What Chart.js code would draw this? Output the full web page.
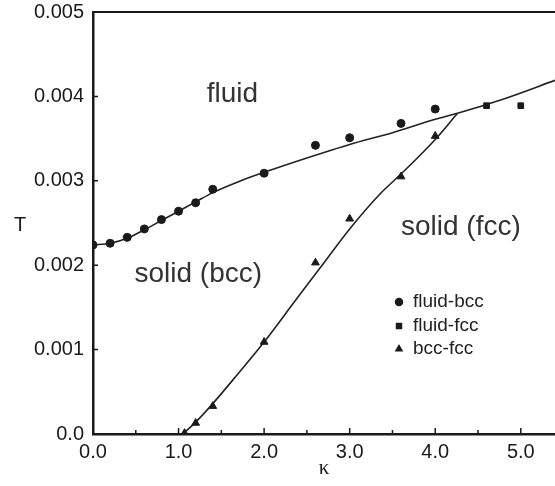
<!DOCTYPE html>
<html>
<head>
<meta charset="utf-8">
<style>
  html, body { margin: 0; padding: 0; background: #fff; }
  #wrap { width: 555px; height: 486px; }
</style>
</head>
<body>
<div id="wrap"><canvas id="c"></canvas></div>
<script src="https://cdn.jsdelivr.net/npm/chart.js"></script>
<script>
// simulation points (kappa, T)
const fluidBccK = [0.0, 0.2, 0.4, 0.6, 0.8, 1.0, 1.2, 1.4, 2.0, 2.6, 3.0, 3.6, 4.0];
const fluidBccT = [0.00224, 0.00226, 0.00233, 0.00243, 0.00254, 0.00264, 0.00274, 0.00290, 0.00309, 0.00342, 0.00351, 0.00368, 0.00385];
const fluidFccK = [4.6, 5.0];
const fluidFccT = [0.00389, 0.00389];
const bccFccK = [1.07, 1.2, 1.4, 2.0, 2.6, 3.0, 3.6, 4.0];
const bccFccT = [0.00001, 0.00013, 0.00033, 0.00109, 0.00203, 0.00255, 0.00305, 0.00353];

// drawn phase boundaries
const meltK = [0.0, 0.2, 0.4, 0.6, 0.8, 1.0, 1.2, 1.4, 1.7, 2.0, 2.5, 3.0, 3.5, 4.0, 4.26, 4.8, 5.4];
const meltT = [0.00224, 0.00226, 0.00232, 0.00242, 0.00253, 0.00264, 0.00275, 0.00286, 0.00299, 0.00310, 0.00327, 0.00343, 0.00357, 0.00373, 0.00380, 0.00397, 0.00419];
const solidK = [1.05, 1.2, 1.4, 1.7, 2.0, 2.35, 2.7, 3.0, 3.36, 3.6, 4.0, 4.26];
const solidT = [0.0, 0.00014, 0.00036, 0.00072, 0.00109, 0.00156, 0.00203, 0.00243, 0.00285, 0.00308, 0.00349, 0.00380];

const xTicks = [0, 1, 2, 3, 4, 5];
const xMinor = [0.5, 1.5, 2.5, 3.5, 4.5];
const yTicks = [0, 0.001, 0.002, 0.003, 0.004, 0.005];
const yTickLabels = ['0.0', '0.001', '0.002', '0.003', '0.004', '0.005'];

const pts = (xs, ys) => xs.map((x, i) => ({ x: x, y: ys[i] }));
const FONT = "'Liberation Sans', Arial, Helvetica, sans-serif";
const INK = '#1a1a1a';

const markerSets = [
  { label: 'fluid-bcc', data: pts(fluidBccK, fluidBccT), pointStyle: 'circle', pointRadius: 4 },
  { label: 'fluid-fcc', data: pts(fluidFccK, fluidFccT), pointStyle: 'rect', pointRadius: 4 },
  { label: 'bcc-fcc', data: pts(bccFccK, bccFccT), pointStyle: 'triangle', pointRadius: 4.5 }
];

// the plot runs off the right edge of the picture: stretch the x scale to the canvas edge
const bleedRight = {
  id: 'bleedRight',
  afterLayout(chart) {
    const a = chart.chartArea, x = chart.scales.x;
    a.right = chart.width;
    a.width = a.right - a.left;
    x.right = chart.width;
    x.width = x.right - x.left;
    x.configure();
  }
};

const decor = {
  id: 'decor',
  afterDraw(chart) {
    const { ctx, chartArea: a, scales: { x, y } } = chart;
    ctx.save();
    ctx.strokeStyle = INK;
    // top frame line
    ctx.lineWidth = 2;
    ctx.beginPath();
    ctx.moveTo(a.left - 1, a.top);
    ctx.lineTo(a.right, a.top);
    ctx.stroke();
    // inward ticks
    ctx.lineWidth = 1.5;
    ctx.beginPath();
    xTicks.forEach(v => { const px = x.getPixelForValue(v); ctx.moveTo(px, a.bottom); ctx.lineTo(px, a.bottom - 6); });
    xMinor.forEach(v => { const px = x.getPixelForValue(v); ctx.moveTo(px, a.bottom); ctx.lineTo(px, a.bottom - 4); });
    yTicks.forEach(v => { const py = y.getPixelForValue(v); ctx.moveTo(a.left, py); ctx.lineTo(a.left + 5, py); });
    ctx.stroke();

    // axis titles
    ctx.fillStyle = INK;
    ctx.textAlign = 'center';
    ctx.textBaseline = 'middle';
    ctx.font = '20px ' + FONT;
    ctx.fillText('T', 20, 225);
    ctx.font = "21px 'Liberation Serif', 'DejaVu Serif', serif";
    ctx.fillText('\u03ba', 324, 468);

    // region labels
    ctx.fillStyle = '#333';
    ctx.font = '28px ' + FONT;
    ctx.textBaseline = 'alphabetic';
    ctx.fillText('fluid', x.getPixelForValue(1.63), 102);
    ctx.fillText('solid (bcc)', x.getPixelForValue(1.23), 282);
    ctx.fillText('solid (fcc)', x.getPixelForValue(4.3), 235);

    // legend
    ctx.font = '19px ' + FONT;
    ctx.textAlign = 'left';
    ctx.textBaseline = 'middle';
    const rows = [302, 326, 349];
    markerSets.forEach((s, i) => {
      ctx.fillStyle = INK;
      Chart.helpers.drawPoint(ctx, { pointStyle: s.pointStyle, radius: 3.5, rotation: 0, borderWidth: 1 }, 399, rows[i]);
      ctx.fill();
      ctx.fillStyle = '#222';
      ctx.fillText(s.label, 413, rows[i]);
    });
    ctx.restore();
  }
};

const tickFont = { family: FONT, size: 20 };

new Chart(document.getElementById('c'), {
  type: 'scatter',
  data: {
    datasets: [
      ...markerSets.map(s => ({
        label: s.label,
        data: s.data,
        pointStyle: s.pointStyle,
        pointRadius: s.pointRadius,
        backgroundColor: INK,
        borderColor: INK,
        borderWidth: 1,
        showLine: false
      })),
      {
        label: 'melting line',
        data: pts(meltK, meltT),
        showLine: true,
        pointRadius: 0,
        borderColor: '#222',
        borderWidth: 1.6,
        cubicInterpolationMode: 'monotone'
      },
      {
        label: 'bcc-fcc line',
        data: pts(solidK, solidT),
        showLine: true,
        pointRadius: 0,
        borderColor: '#222',
        borderWidth: 1.6,
        cubicInterpolationMode: 'monotone'
      }
    ]
  },
  options: {
    responsive: true,
    maintainAspectRatio: false,
    animation: false,
    layout: { padding: { top: 12, right: 0, left: 0, bottom: 0 } },
    plugins: { legend: { display: false }, tooltip: { enabled: false } },
    scales: {
      x: {
        type: 'linear',
        min: 0,
        max: 5.4,
        afterBuildTicks: s => { s.ticks = xTicks.map(v => ({ value: v })); },
        afterFit: s => { s.height = 52; },
        grid: { display: false, drawTicks: false },
        border: { display: true, color: INK, width: 2.5 },
        ticks: { font: tickFont, color: INK, padding: 6, maxRotation: 0, callback: v => v.toFixed(1) }
      },
      y: {
        min: 0,
        max: 0.005,
        afterBuildTicks: s => { s.ticks = yTicks.map(v => ({ value: v })); },
        afterFit: s => { s.width = 93; s.paddingTop = 0; s.paddingBottom = 0; },
        grid: { display: false, drawTicks: false },
        border: { display: true, color: INK, width: 2.5 },
        ticks: { font: tickFont, color: INK, padding: 9, callback: (v, i) => yTickLabels[i] }
      }
    }
  },
  plugins: [bleedRight, decor]
});
</script>
</body>
</html>
